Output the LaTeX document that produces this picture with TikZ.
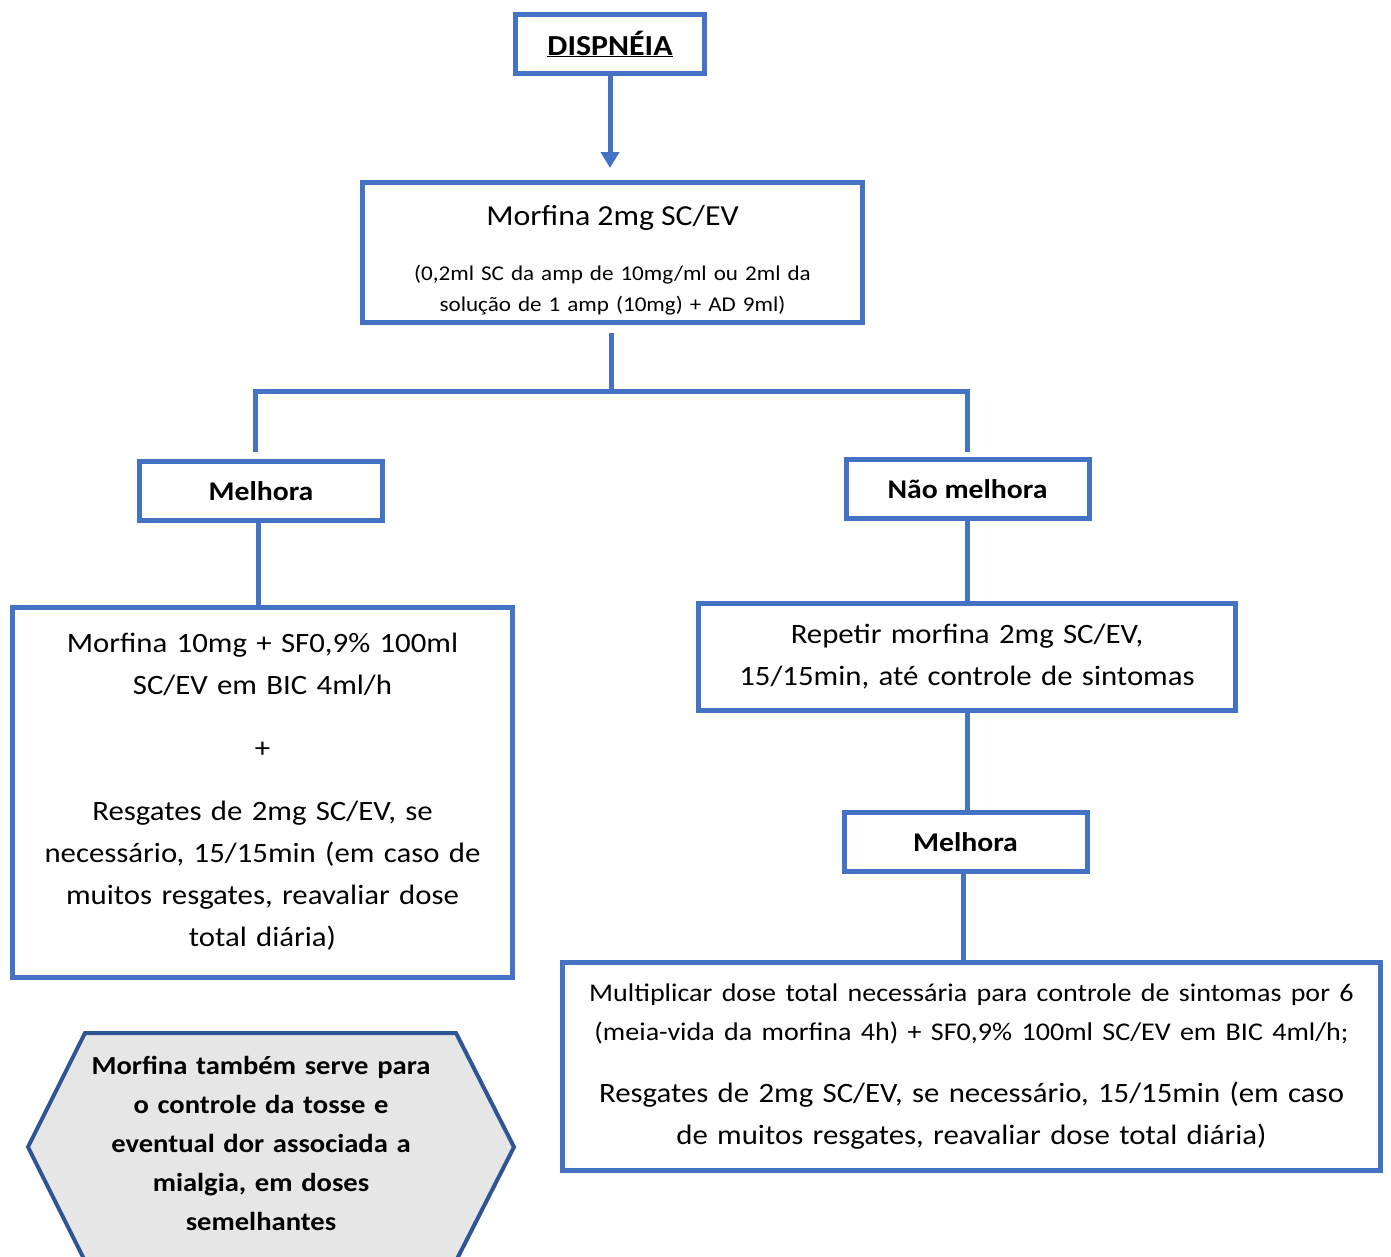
\documentclass[tikz,border=0pt]{standalone}
\usepackage{fontspec}
\setmainfont{Carlito}[FakeStretch=1.1]
\usetikzlibrary{arrows.meta}
\definecolor{bl}{HTML}{4472C4}
\definecolor{hexb}{HTML}{2F5597}
\definecolor{hexf}{HTML}{E7E6E6}
\begin{document}
\begin{tikzpicture}[x=1pt,y=-1pt,
  box/.style={draw=bl, line width=5pt, rectangle, inner sep=0pt, align=center},
  conn/.style={draw=bl, line width=5pt},
  small/.style={minimum width=243pt, minimum height=59pt, font=\fontsize{27}{32}\selectfont\bfseries},
]
\useasboundingbox (0,0) rectangle (1391,1256);
\fill[white] (0,0) rectangle (1391,1256);

\node[box, minimum width=189pt, minimum height=59pt, font=\fontsize{29}{34}\selectfont\bfseries] (dis) at (610,44) {\underline{DISPNÉIA}};

\node[box, minimum width=500pt, minimum height=140pt, text width=490pt, font=\fontsize{21}{31}\selectfont] (m1) at (612.5,252.5)
  {\rule{0pt}{36pt}{\fontsize{29}{34}\selectfont Morfina 2mg SC/EV}\\[24pt]
   (0,2ml SC da amp de 10mg/ml ou 2ml da\\ solução de 1 amp (10mg) + AD 9ml)};

\node[box, small] (mel1) at (261,491) {Melhora};
\node[box, small] (nm) at (967.5,489) {Não melhora};

\node[box, minimum width=500pt, minimum height=370pt, text width=490pt, font=\fontsize{28}{42}\selectfont] (lb) at (262.5,792)
  {Morfina 10mg + SF0,9\% 100ml\\ SC/EV em BIC 4ml/h\\[21pt] +\\[21pt]
   Resgates de 2mg SC/EV, se\\ necessário, 15/15min (em caso de\\ muitos resgates, reavaliar dose\\ total diária)};

\node[box, minimum width=537pt, minimum height=107pt, text width=530pt, font=\fontsize{28}{42}\selectfont] (rep) at (967,657)
  {Repetir morfina 2mg SC/EV,\\ 15/15min, até controle de sintomas};

\node[box, small] (mel2) at (965.5,842) {Melhora};

\node[box, minimum width=818pt, minimum height=208pt, text width=810pt, font=\fontsize{28}{42}\selectfont] (fin) at (971.5,1066.5)
  {{\fontsize{25.5}{39}\selectfont Multiplicar dose total necessária para controle de sintomas por 6\\
   (meia-vida da morfina 4h) + SF0,9\% 100ml SC/EV em BIC 4ml/h;\par}\vspace{20pt}
   Resgates de 2mg SC/EV, se necessário, 15/15min (em caso\\ de muitos resgates, reavaliar dose total diária)};

\draw[draw=hexb, line width=4pt, fill=hexf] (85,1033) -- (456,1033) -- (514,1147) -- (456,1261) -- (85,1261) -- (28,1147) -- cycle;
\node[align=center, text width=400pt, inner sep=0pt, font=\fontsize{26}{39}\selectfont\bfseries] (hex) at (261,1143)
  {Morfina também serve para\\ o controle da tosse e\\ eventual dor associada a\\ mialgia, em doses\\ semelhantes};

% connectors
\draw[conn, shorten >=12pt, -{Triangle[width=18pt,length=16pt]}] (dis.south) -- (dis.south |- m1.north);
\coordinate (j) at (611,391);
\draw[conn] ([yshift=-8pt]m1.south -| j) -- (j);
\draw[conn] ([xshift=-6pt,yshift=7pt]mel1.north) |- (j) -| ([yshift=5pt]nm.north);
\draw[conn] ([xshift=-3pt]mel1.south) -- ([xshift=-3pt]mel1.south |- lb.north);
\draw[conn] (nm.south) -- (nm.south |- rep.north);
\draw[conn] (rep.south) -- (rep.south |- mel2.north);
\draw[conn] ([xshift=-2pt]mel2.south) -- ([xshift=-2pt]mel2.south |- fin.north);
\end{tikzpicture}
\end{document}
